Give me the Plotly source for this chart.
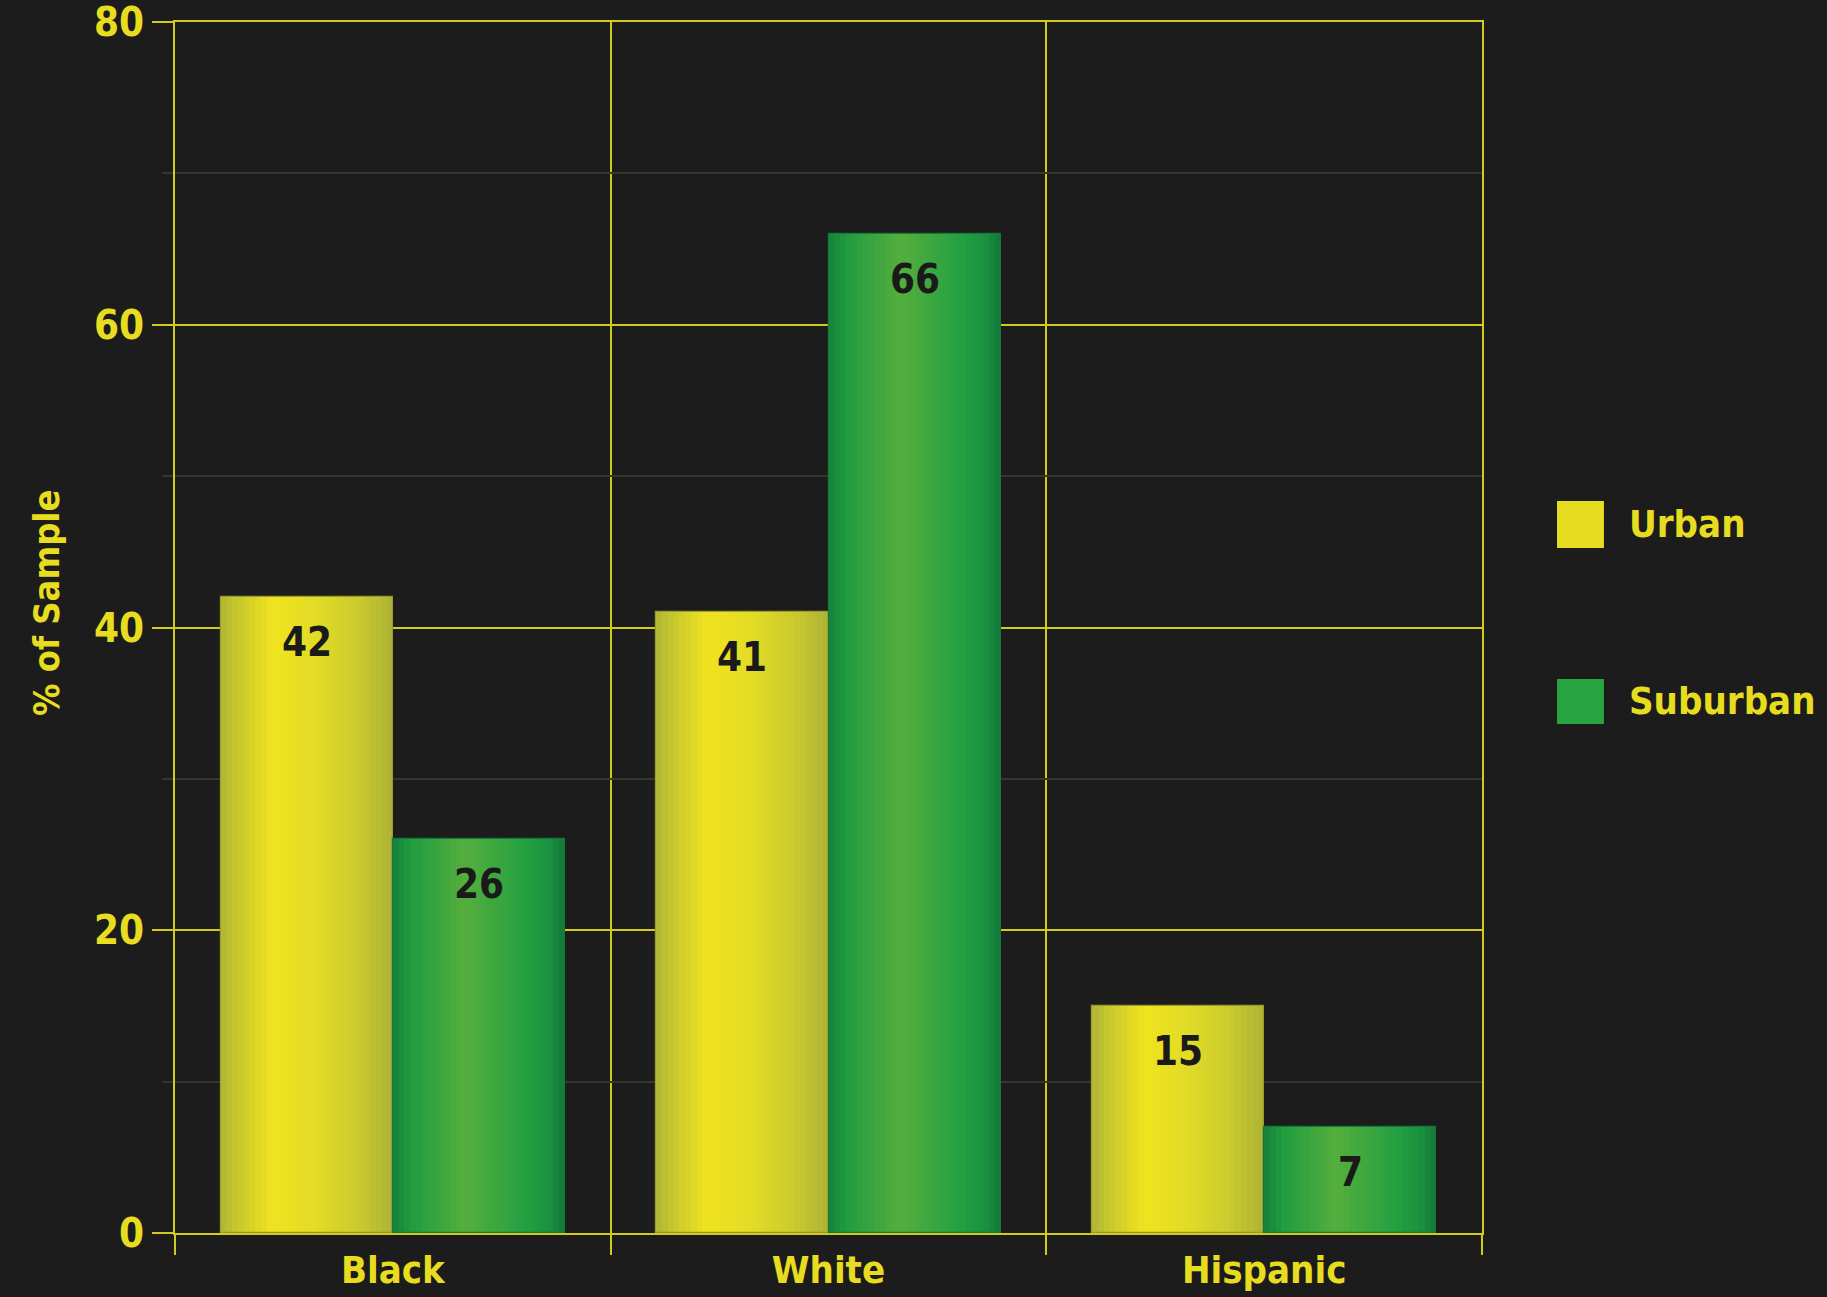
import plotly.graph_objects as go

# ---- data ----
categories = ["Black", "White", "Hispanic"]
series_names = ["Urban", "Suburban"]
urban = [42, 41, 15]
suburban = [26, 66, 7]
y_ticks = [0, 20, 40, 60, 80]
y_minor = [10, 30, 50, 70]
y_title = "% of Sample"

# ---- style ----
BG = "#1b1c1b"
AXIS = "#d2ca1c"
TEXT = "#e8dc20"
MINOR = "#37362a"
FONT = "DejaVu Sans Condensed, DejaVu Sans, sans-serif"
W = "bold"
LEGEND_COL = ["#e6dc22", "#28a440"]
OUTLINE = ["#9c9a2c", "#15783a"]
GRADS = [
    [(0, "#b0b434"), (0.08, "#c4c52f"), (0.30, "#f0e31f"), (0.55, "#e2dc26"),
     (0.80, "#cbca2e"), (1.0, "#adb336")],
    [(0, "#15803a"), (0.10, "#1f9c40"), (0.42, "#55ae3d"), (0.75, "#26a141"),
     (0.90, "#1a9340"), (1.0, "#127838")],
]
BAR_W = 0.395
N_SLICES = 30


def fnt(size, color):
    return dict(family=FONT, size=size, color=color, weight=W)


def hex2rgb(h):
    h = h.lstrip("#")
    return tuple(int(h[i:i + 2], 16) for i in (0, 2, 4))


def interp(stops, t):
    for (t0, c0), (t1, c1) in zip(stops[:-1], stops[1:]):
        if t0 <= t <= t1:
            f = 0 if t1 == t0 else (t - t0) / (t1 - t0)
            a, b = hex2rgb(c0), hex2rgb(c1)
            return "rgb(%d,%d,%d)" % tuple(round(a[i] + (b[i] - a[i]) * f) for i in range(3))
    return stops[-1][1]


fig = go.Figure()
xs = list(range(len(categories)))
all_series = [urban, suburban]
annotations = []

for s, vals in enumerate(all_series):
    start = -BAR_W if s == 0 else 0.0
    sw = BAR_W / N_SLICES
    for k in range(N_SLICES):
        t = (k + 0.5) / N_SLICES
        w = sw * 1.15 if k < N_SLICES - 1 else sw
        fig.add_trace(go.Bar(
            x=xs, y=vals, width=[w] * len(xs), offset=start + k * sw,
            marker=dict(color=interp(GRADS[s], t), line=dict(width=0)),
            showlegend=False, hoverinfo="skip", name=series_names[s]))
    fig.add_trace(go.Bar(
        x=xs, y=vals, width=[BAR_W] * len(xs), offset=start,
        marker=dict(color="rgba(0,0,0,0)", line=dict(color=OUTLINE[s], width=1.2)),
        showlegend=False, name=series_names[s],
        hovertemplate="%{y}<extra>" + series_names[s] + "</extra>"))
    for i, v in zip(xs, vals):
        annotations.append(dict(
            x=i + start + BAR_W / 2, y=v, xref="x", yref="y", text=str(v),
            showarrow=False, yanchor="top", yshift=-20,
            font=fnt(40, "#1a1a1a")))

annotations.append(dict(
    x=-0.0987, y=0.521, xref="paper", yref="paper", text=y_title, textangle=-90,
    showarrow=False, xanchor="center", yanchor="middle",
    font=fnt(36, TEXT)))

shapes = []
leg_y = [(0.5657, 0.6045), (0.4203, 0.4575)]
for s, name in enumerate(series_names):
    y0, y1 = leg_y[s]
    shapes.append(dict(type="rect", xref="paper", yref="paper",
                       x0=1.0574, x1=1.0933, y0=y0, y1=y1,
                       fillcolor=LEGEND_COL[s], line=dict(width=0)))
    annotations.append(dict(
        x=1.111, y=(y0 + y1) / 2, xref="paper", yref="paper", text=name,
        showarrow=False, xanchor="left", yanchor="middle",
        font=fnt(38, TEXT)))

fig.update_layout(
    width=1827, height=1297,
    margin=dict(l=175, r=345, t=22, b=64),
    paper_bgcolor=BG, plot_bgcolor=BG,
    barmode="overlay", bargap=0,
    showlegend=False,
    annotations=annotations, shapes=shapes,
    font=dict(family=FONT, color=TEXT),
    xaxis=dict(
        range=[-0.5, 2.5], tickmode="array", tickvals=xs, ticktext=categories,
        ticks="outside", ticklen=2, tickcolor="rgba(0,0,0,0)",
        showgrid=False, zeroline=False, automargin=False,
        showline=True, linecolor=AXIS, linewidth=2, mirror=True,
        tickfont=fnt(38, TEXT), ticklabeloverflow="allow",
        minor=dict(tickmode="array", tickvals=[-0.5, 0.5, 1.5, 2.5],
                   ticks="outside", ticklen=20, tickcolor=AXIS, tickwidth=2,
                   showgrid=True, gridcolor=AXIS, gridwidth=1.5),
    ),
    yaxis=dict(
        range=[0, 80], tickmode="array", tickvals=y_ticks,
        ticks="outside", ticklen=21, tickcolor=AXIS, tickwidth=2,
        showgrid=True, gridcolor=AXIS, gridwidth=1.5, zeroline=False,
        automargin=False,
        showline=True, linecolor=AXIS, linewidth=2, mirror=True,
        tickfont=fnt(40, TEXT), ticklabeloverflow="allow",
        minor=dict(tickmode="array", tickvals=y_minor,
                   ticks="outside", ticklen=11, tickcolor=MINOR, tickwidth=1.5,
                   showgrid=True, gridcolor=MINOR, gridwidth=1.5),
    ),
)

fig.write_html("out.html", config={"displayModeBar": False})
with open("out.html", "r", encoding="utf-8") as fh:
    html = fh.read()
css = "<style>html,body{margin:0;padding:0;background:#1b1c1b;overflow:hidden}</style>"
html = html.replace("<head>", "<head>" + css, 1)
with open("out.html", "w", encoding="utf-8") as fh:
    fh.write(html)
